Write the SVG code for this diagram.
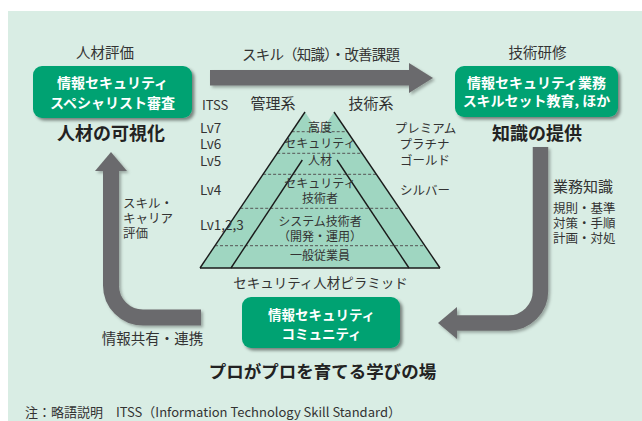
<svg xmlns="http://www.w3.org/2000/svg" width="642" height="421" viewBox="0 0 642 421">
<defs>
<filter id="sh" x="-20%" y="-20%" width="150%" height="150%">
<feDropShadow dx="2.5" dy="2.5" stdDeviation="1.5" flood-color="#000" flood-opacity="0.45"/>
</filter>
<filter id="ash" x="-20%" y="-20%" width="150%" height="150%">
<feDropShadow dx="2" dy="2" stdDeviation="1.8" flood-color="#000" flood-opacity="0.3"/>
</filter>
</defs>
<style>
text{font-family:"Noto Sans CJK JP","Noto Sans",sans-serif;fill:#333;}
.box{fill:#00a272;}
.bt{fill:#fff;font-weight:bold;font-size:14px;text-anchor:middle;}
.lb{font-size:14.5px;text-anchor:middle;}
.hd{font-size:18px;font-weight:bold;text-anchor:middle;fill:#222;}
.pt{font-size:12px;text-anchor:middle;}
.lv{font-size:13.5px;}
.rl{font-size:12.5px;text-anchor:middle;}
.sm{font-size:12.5px;}
.arr{fill:none;stroke:#6b6b6d;stroke-width:16;}
.ah{fill:#6b6b6d;}
.edge{stroke:#1a1a1a;stroke-width:1.4;fill:none;}
.dash{stroke:#555;stroke-width:1;stroke-dasharray:3 2;}
</style>
<rect x="8" y="11" width="634" height="410" fill="#d9ede4"/>

<g id="connectors">
<g filter="url(#ash)">
<rect x="210" y="70" width="200" height="15.5" class="ah"/>
<polygon points="409,63 433,78 409,93" class="ah"/>
</g>
<g filter="url(#ash)">
<path d="M540.5 147 V291 A32 32 0 0 1 508.5 323 H456" class="arr" style="stroke-width:15.5"/>
<polygon points="438,323 457,307 457,339" class="ah"/>
</g>
<g filter="url(#ash)">
<path d="M201 317.5 H143 A32 32 0 0 1 111 285.5 V170" class="arr"/>
<polygon points="111,152 95,171 127,171" class="ah"/>
</g>
<text class="lb" x="321" y="60" textLength="158" lengthAdjust="spacing">スキル（知識）・改善課題</text>
<text class="sm" x="123" y="207.5">スキル・</text>
<text class="sm" x="123" y="222.5">キャリア</text>
<text class="sm" x="123" y="237.5">評価</text>
<text class="lb" x="152.5" y="344">情報共有・連携</text>
<text x="553" y="192" style="font-size:15px">業務知識</text>
<text class="sm" x="553" y="212.5">規則・基準</text>
<text class="sm" x="553" y="227.5">対策・手順</text>
<text class="sm" x="553" y="242.5">計画・対処</text>
</g>

<g id="node-eval">
<text class="lb" x="105" y="58">人材評価</text>
<rect x="33" y="66" width="159" height="52" rx="9" class="box" filter="url(#sh)"/>
<text class="bt" x="112.5" y="88">情報セキュリティ</text>
<text class="bt" x="112.5" y="108">スペシャリスト審査</text>
<text class="hd" x="111" y="140">人材の可視化</text>
</g>

<g id="node-training">
<text class="lb" x="537.5" y="58">技術研修</text>
<rect x="455" y="66" width="163" height="51" rx="9" class="box" filter="url(#sh)"/>
<text class="bt" x="536.5" y="88">情報セキュリティ業務</text>
<text class="bt" x="536.5" y="106">スキルセット教育, ほか</text>
<text class="hd" x="537" y="140">知識の提供</text>
</g>

<g id="node-community">
<rect x="242" y="297" width="158" height="51" rx="9" class="box" filter="url(#sh)"/>
<text class="bt" x="321.5" y="320" style="font-size:13.5px">情報セキュリティ</text>
<text class="bt" x="321.5" y="339" style="font-size:13.5px">コミュニティ</text>
<text class="hd" x="322.5" y="377.5" style="font-size:17.5px">プロがプロを育てる学びの場</text>
</g>

<g id="node-pyramid">
<polygon points="200,268 305,112 319.6,133.9 334,112 440,268" fill="#9fd6c1"/>
<line class="dash" x1="291.7" y1="131.7" x2="347.4" y2="131.7"/>
<line class="dash" x1="277.2" y1="153.3" x2="362.1" y2="153.3"/>
<line class="dash" x1="263.1" y1="174.3" x2="376.3" y2="174.3"/>
<line class="dash" x1="240.2" y1="208.3" x2="399.4" y2="208.3"/>
<line class="dash" x1="215" y1="245.7" x2="424.8" y2="245.7"/>
<polyline class="edge" points="200,268 305,112"/>
<polyline class="edge" points="334,112 440,268"/>
<line class="edge" x1="200" y1="268" x2="440" y2="268"/>
<line class="edge" x1="337" y1="160" x2="409" y2="268"/>
<line class="edge" x1="302.3" y1="160" x2="231" y2="268"/>
<text class="pt" x="320" y="131.5">高度</text>
<text class="pt" x="320" y="147.5">セキュリティ</text>
<text class="pt" x="320" y="164.5">人材</text>
<text class="pt" x="320" y="187.5">セキュリティ</text>
<text class="pt" x="320" y="202.5">技術者</text>
<text class="pt" x="320" y="225.5">システム技術者</text>
<text class="pt" x="320" y="240.5">（開発・運用）</text>
<text class="pt" x="320" y="259.5">一般従業員</text>
<text x="320.5" y="288" style="font-size:13.5px;text-anchor:middle">セキュリティ人材ピラミッド</text>
<text class="lb" x="273" y="109" style="font-size:15px">管理系</text>
<text class="lb" x="371" y="109" style="font-size:15px">技術系</text>
<text class="lv" x="202" y="110" style="font-size:13px">ITSS</text>
<text class="lv" x="200" y="133">Lv7</text>
<text class="lv" x="200" y="149">Lv6</text>
<text class="lv" x="200" y="165.5">Lv5</text>
<text class="lv" x="200" y="194.5">Lv4</text>
<text class="lv" x="200" y="229.5">Lv1,2,3</text>
<text class="rl" x="425.5" y="132.5">プレミアム</text>
<text class="rl" x="424.5" y="148.5">プラチナ</text>
<text class="rl" x="425" y="165">ゴールド</text>
<text class="rl" x="425" y="194.5">シルバー</text>
</g>

<text x="25" y="417" style="font-size:13px">注：略語説明　ITSS（Information Technology Skill Standard）</text>
</svg>
